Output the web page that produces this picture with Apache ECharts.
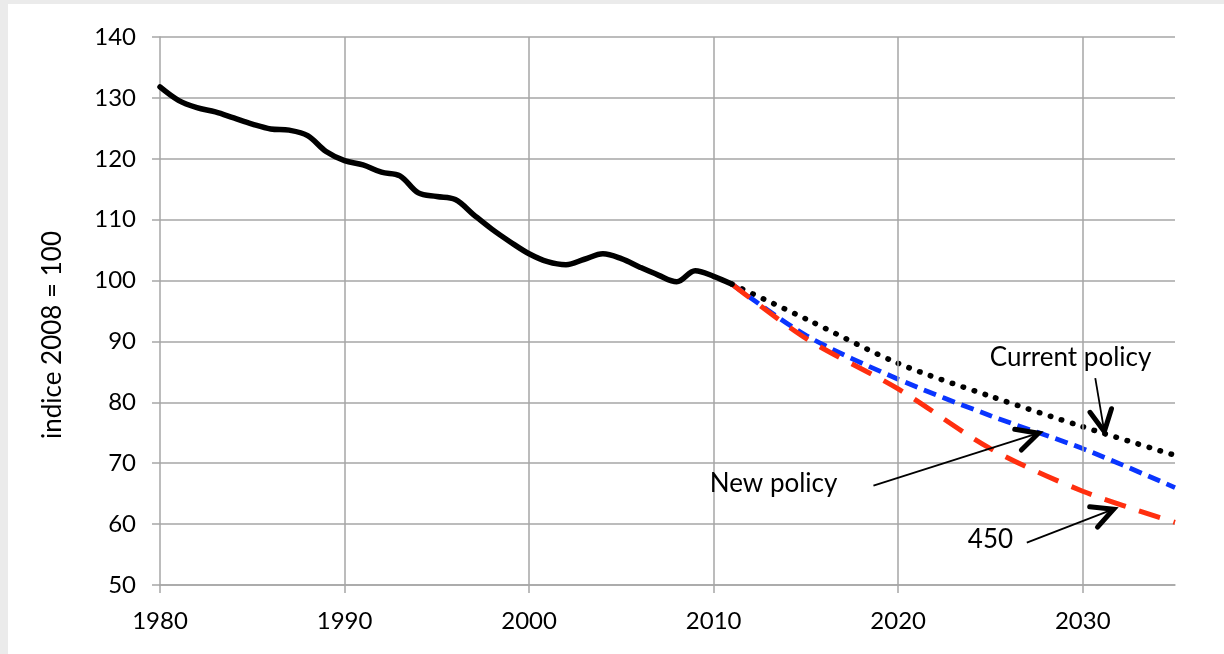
<!DOCTYPE html>
<html>
<head>
<meta charset="utf-8">
<script src="https://cdn.jsdelivr.net/npm/echarts@6/dist/echarts.min.js"></script>
<style>
html,body{margin:0;padding:0;background:#ebebeb;width:1224px;height:654px;overflow:hidden;}
#frame{position:absolute;left:8px;top:4px;width:1216px;height:650px;background:#ffffff;}
#chart{position:absolute;left:0;top:0;width:1224px;height:654px;}
</style>
</head>
<body>
<div id="frame"></div>
<div id="chart"></div>
<script>
// ---- data ----
const histYears = [1980,1981,1982,1983,1984,1985,1986,1987,1988,1989,1990,1991,1992,1993,1994,1995,1996,1997,1998,1999,2000,2001,2002,2003,2004,2005,2006,2007,2008,2009,2010,2011];
const histValues = [131.8,129.6,128.4,127.7,126.7,125.7,124.9,124.7,123.8,121.2,119.7,119.0,117.8,117.2,114.4,113.8,113.3,110.8,108.4,106.3,104.4,103.1,102.6,103.5,104.4,103.6,102.2,100.9,99.8,101.6,100.7,99.4];

const projYears = [2011,2015,2020,2025,2030,2035];
const currentPolicy = [99.4,93.7,86.4,81.0,76.0,71.3];
const newPolicy = [99.4,91.0,83.8,77.8,72.4,66.0];
const policy450 = [99.4,90.5,82.2,72.4,65.4,60.3];

const xTicks = [1980,1990,2000,2010,2020,2030];
const yAxisTitle = 'indice 2008 = 100';

// annotations (data coordinates)
const annoLabels = ['Current policy','New policy','450'];
const annoTextPos = [[2029.34,87.3],[2013.25,66.6],[2025.0,57.4]];
const annoFrom = [[2030.68,83.96],[2018.66,66.32],[2026.97,56.96]];
const annoTo = [[2031.17,75.19],[2027.6,74.93],[2031.67,62.45]];

const FONT = 'Lato, "Open Sans", sans-serif';
const GRID = '#a6a6a6';

const pairs = (xs, ys) => xs.map((x, i) => [x, ys[i]]);

const chart = echarts.init(document.getElementById('chart'), null, {renderer: 'canvas'});
chart.setOption({
  animation: false,
  backgroundColor: 'transparent',
  grid: {left: 160, right: 49, top: 37, bottom: 69, containLabel: false},
  xAxis: {
    type: 'value', min: 1980, max: 2035, interval: 10,
    axisLine: {show: true, lineStyle: {color: GRID, width: 1.5}},
    axisTick: {show: true, length: 8, lineStyle: {color: GRID, width: 1.5}, customValues: xTicks},
    axisLabel: {color: '#000', fontSize: 24, fontFamily: FONT, margin: 24, customValues: xTicks,
      formatter: v => String(v)},
    splitLine: {show: false}
  },
  yAxis: {
    type: 'value', min: 50, max: 140, interval: 10,
    axisLine: {show: true, lineStyle: {color: GRID, width: 1.5}},
    axisTick: {show: true, length: 8, lineStyle: {color: GRID, width: 1.5}},
    axisLabel: {color: '#000', fontSize: 24, fontFamily: FONT, margin: 24},
    splitLine: {show: true, lineStyle: {color: GRID, width: 1.5}}
  },
  series: [
    {
      name: 'grid', type: 'line', data: [], silent: true,
      markLine: {
        silent: true, symbol: 'none', animation: false,
        label: {show: false},
        lineStyle: {color: GRID, width: 1.5, type: 'solid'},
        data: xTicks.slice(1).map(x => ({xAxis: x}))
      }
    },
    {
      name: 'Current policy', type: 'line', data: pairs(projYears, currentPolicy),
      smooth: 0.3, symbol: 'none', z: 3,
      lineStyle: {color: '#000', width: 5.5, type: [0.5, 11], cap: 'round'}
    },
    {
      name: 'New policy', type: 'line', data: pairs(projYears, newPolicy),
      smooth: 0.3, symbol: 'none', z: 4,
      lineStyle: {color: '#0a35ff', width: 4.8, type: [13, 7], cap: 'butt'}
    },
    {
      name: '450', type: 'line', data: pairs(projYears, policy450),
      smooth: 0.3, symbol: 'none', z: 5,
      lineStyle: {color: '#ff2f0f', width: 5, type: [22, 14], cap: 'butt'}
    },
    {
      name: 'history', type: 'line', data: pairs(histYears, histValues),
      smooth: 0.35, symbol: 'none', z: 6,
      lineStyle: {color: '#000', width: 5.5, cap: 'round', join: 'round'}
    }
  ]
});

// annotations placed through the chart's own scales
function px(p) { return chart.convertToPixel({gridIndex: 0}, p); }
function arrowHead(tip, from, len, ang) {
  const dx = from[0] - tip[0], dy = from[1] - tip[1];
  const L = Math.hypot(dx, dy), ux = dx / L, uy = dy / L;
  const rot = a => [tip[0] + len * (ux * Math.cos(a) - uy * Math.sin(a)),
                    tip[1] + len * (ux * Math.sin(a) + uy * Math.cos(a))];
  return [rot(ang), tip, rot(-ang)];
}
const graphics = [];
annoLabels.forEach((t, i) => {
  const tp = px(annoTextPos[i]);
  graphics.push({type: 'text', x: tp[0], y: tp[1], z: 100,
    style: {text: t, fontSize: 26, fontFamily: FONT, fill: '#000', align: 'center', verticalAlign: 'middle'}});
  const a = px(annoFrom[i]), b = px(annoTo[i]);
  graphics.push({type: 'line', z: 100, shape: {x1: a[0], y1: a[1], x2: b[0], y2: b[1]},
    style: {stroke: '#000', lineWidth: 1.8}});
  graphics.push({type: 'polyline', z: 100, shape: {points: arrowHead(b, a, 24, 27 * Math.PI / 180)},
    style: {stroke: '#000', lineWidth: 5, fill: null, lineJoin: 'miter', lineCap: 'round'}});
});
graphics.push({type: 'text', x: 53, y: 335, rotation: Math.PI / 2, z: 100,
  style: {text: yAxisTitle, fontSize: 26, fontFamily: FONT, fill: '#000', align: 'center', verticalAlign: 'middle'}});
chart.setOption({graphic: graphics});
</script>
</body>
</html>
